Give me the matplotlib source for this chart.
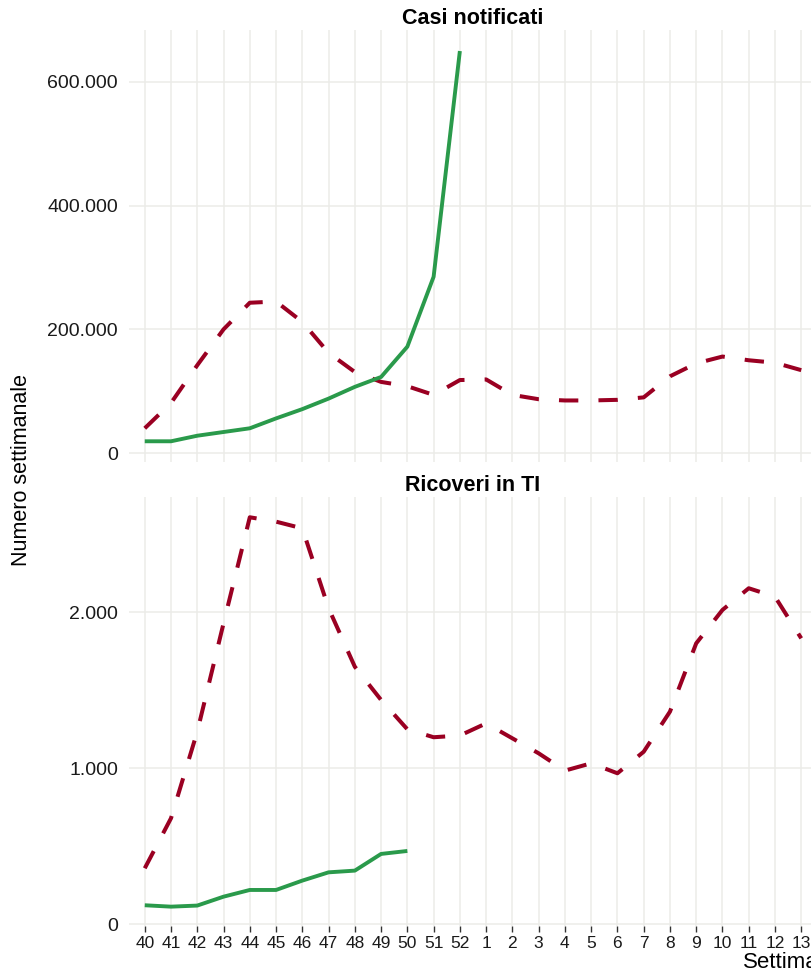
import matplotlib
matplotlib.use("Agg")
import matplotlib.pyplot as plt
from matplotlib.ticker import FuncFormatter

# Dati (lettura dal grafico)
settimane = ['40', '41', '42', '43', '44', '45', '46', '47', '48', '49', '50', '51', '52',
             '1', '2', '3', '4', '5', '6', '7', '8', '9', '10', '11', '12', '13']

# Casi notificati
casi_attuale = [19000, 19000, 28000, 34000, 40000, 56000, 71000, 88000, 107000, 123000,
                172000, 285000, 650000]
casi_precedente = [40000, 81000, 142000, 200000, 243000, 245000, 212000, 162000, 131000,
                   115000, 108000, 94000, 118000, 119000, 94000, 87000, 85000, 85000, 86000,
                   90000, 124000, 145000, 156000, 150000, 146000, 134000]

# Ricoveri in terapia intensiva
ricoveri_attuale = [122, 113, 120, 177, 220, 220, 280, 333, 344, 451, 470]
ricoveri_precedente = [359, 680, 1235, 1929, 2609, 2581, 2538, 2026, 1651, 1438, 1250, 1199,
                       1210, 1288, 1192, 1096, 985, 1032, 968, 1106, 1363, 1801, 2015, 2154,
                       2100, 1833]

VERDE = '#2A9A4B'
ROSSO = '#9A0022'
GRIGLIA = '#ECECE8'

plt.rcParams['font.family'] = ['Liberation Sans', 'DejaVu Sans']

W, H = 812, 980
fig = plt.figure(figsize=(W / 100, H / 100), dpi=100)


def box(left, top, right, bottom):
    return [left / W, 1 - bottom / H, (right - left) / W, (bottom - top) / H]


ax1 = fig.add_axes(box(129, 30, 817, 462))
ax2 = fig.add_axes(box(129, 497, 817, 926))

formato = FuncFormatter(lambda v, p: f'{int(v):,}'.replace(',', '.'))


def pannello(ax, attuale, precedente, yticks, ylim, mostra_x):
    x_att = list(range(len(attuale)))
    x_prec = list(range(len(precedente)))
    ax.plot(x_prec, precedente, color=ROSSO, lw=2.9, dashes=(4.8, 5),
            dash_capstyle='butt', zorder=3)
    ax.plot(x_att, attuale, color=VERDE, lw=2.8, solid_capstyle='butt', zorder=4)
    ax.set_xlim(-0.6, len(settimane) - 0.4)
    ax.set_ylim(*ylim)
    ax.set_xticks(range(len(settimane)))
    ax.set_yticks(yticks)
    ax.yaxis.set_major_formatter(formato)
    ax.grid(True, color=GRIGLIA, lw=1.1)
    ax.set_axisbelow(True)
    for s in ax.spines.values():
        s.set_visible(False)
    ax.tick_params(axis='y', length=0, pad=8, labelsize=14, labelcolor='#1a1a1a')
    if mostra_x:
        ax.set_xticklabels(settimane)
        ax.tick_params(axis='x', length=4, width=1, color='#333333', pad=3,
                       labelsize=12.5, labelcolor='#1a1a1a')
    else:
        ax.tick_params(axis='x', length=0, labelbottom=False)


pannello(ax1, casi_attuale, casi_precedente, [0, 200000, 400000, 600000], (-14500, 684000), False)
pannello(ax2, ricoveri_attuale, ricoveri_precedente, [0, 1000, 2000], (-11, 2739), True)

fig.text(473 / W, 1 - 19 / H, 'Casi notificati', ha='center', va='center',
         fontsize=15.5, fontweight='bold')
fig.text(473 / W, 1 - 485 / H, 'Ricoveri in TI', ha='center', va='center',
         fontsize=15.5, fontweight='bold')
fig.text(22 / W, 1 - 470 / H, 'Numero settimanale', rotation=90, ha='center', va='center',
         fontsize=15.5)
fig.text(743 / W, 1 - 962 / H, 'Settimana', ha='left', va='center', fontsize=16)

fig.savefig('out.png', dpi=100, facecolor='white')
